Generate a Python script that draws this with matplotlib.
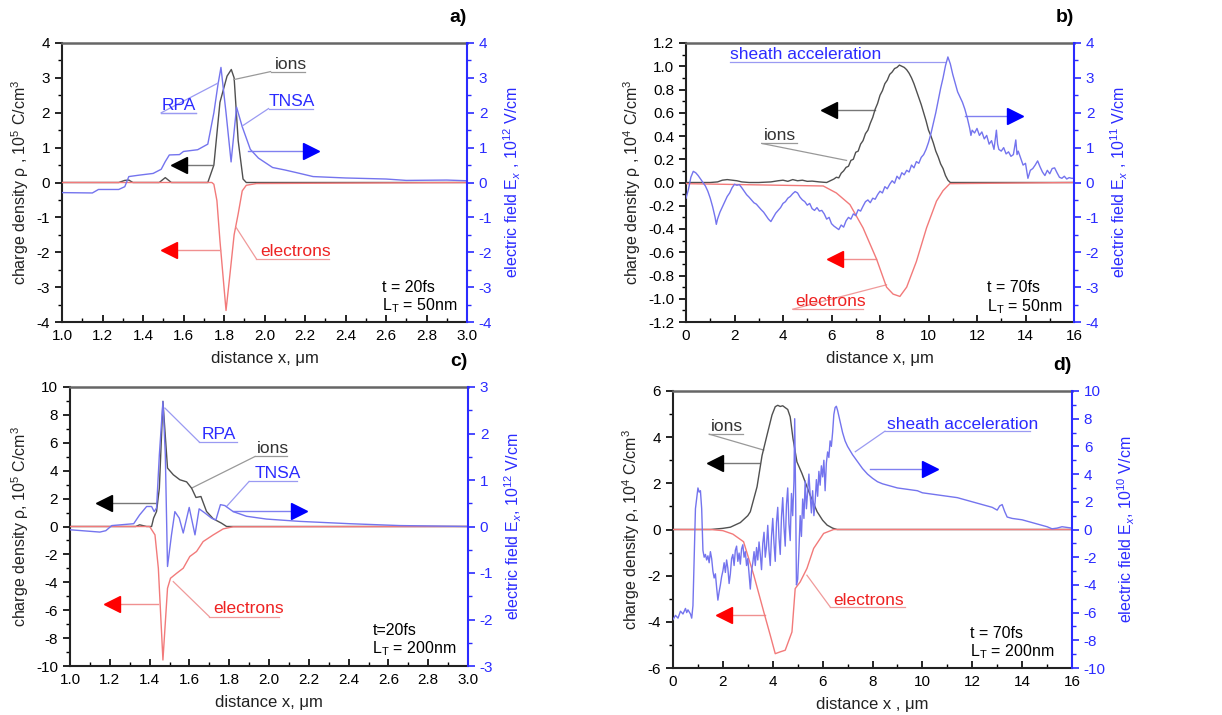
import numpy as np
import matplotlib
matplotlib.use("Agg")
import matplotlib.pyplot as plt
from matplotlib.ticker import MultipleLocator, FormatStrFormatter

plt.rcParams['font.family'] = ['Liberation Sans', 'DejaVu Sans']
plt.rcParams['mathtext.fontset'] = 'custom'
plt.rcParams['mathtext.rm'] = 'Liberation Sans'
plt.rcParams['mathtext.it'] = 'Liberation Sans:italic'
plt.rcParams['mathtext.bf'] = 'Liberation Sans:bold'
plt.rcParams['axes.unicode_minus'] = False

# ---------------- panel a data ----------------
ions_a_x = [1.0, 1.28, 1.31, 1.33, 1.35, 1.48, 1.51, 1.54, 1.72, 1.75, 1.78, 1.815, 1.836, 1.85, 1.87, 1.894, 1.91, 3.0]
ions_a_y = [0, 0, 0.06, 0.07, 0.0, 0, 0.14, 0, 0, 0.5, 2.3, 3.05, 3.24, 3.0, 1.2, 0.1, 0, 0]
elec_a_x = [1.0, 1.74, 1.75, 1.765, 1.78, 1.81, 1.83, 1.85, 1.87, 1.89, 1.91, 1.96, 3.0]
elec_a_y = [0, 0, -0.05, -0.52, -1.67, -3.67, -2.6, -1.5, -0.9, -0.24, -0.08, -0.03, 0]
field_a_x = [1.0, 1.15, 1.18, 1.28, 1.31, 1.33, 1.38, 1.45, 1.49, 1.51, 1.53, 1.58, 1.60, 1.67, 1.72, 1.75, 1.77,
             1.785, 1.81, 1.835, 1.862, 1.89, 1.93, 1.97, 2.04, 2.1, 2.16, 2.24, 2.4, 2.6, 2.7, 2.9, 3.0]
field_a_y = [-0.29, -0.3, -0.2, -0.2, -0.12, 0.17, 0.21, 0.26, 0.38, 0.6, 0.79, 0.8, 0.89, 0.94, 1.1, 2.0, 2.8,
             3.3, 2.0, 0.59, 2.16, 1.6, 0.95, 0.7, 0.43, 0.36, 0.28, 0.17, 0.13, 0.1, 0.06, 0.07, 0.05]

# ---------------- panel b data ----------------
ions_b_x = [0, 0.5, 1.0, 1.3, 1.5, 1.7, 1.9, 2.1, 2.3, 2.6, 3.0, 3.5, 3.8, 4.0, 4.2, 4.4, 4.6, 4.8, 5.0, 5.2, 5.5, 5.8,
            6.0, 6.1, 6.2, 6.3, 6.4, 6.5, 6.6, 6.7, 6.8, 6.9, 7.0, 7.1, 7.2, 7.3, 7.4, 7.5, 7.6, 7.7, 7.8, 7.9,
            8.0, 8.1, 8.2, 8.3, 8.4, 8.5, 8.6, 8.7, 8.8, 8.9, 9.0, 9.1, 9.2, 9.3, 9.4, 9.5, 9.6, 9.7, 9.8, 9.9,
            10.0, 10.1, 10.2, 10.3, 10.4, 10.5, 10.6, 10.7, 10.8, 10.9, 12.0, 16.0]
ions_b_y = [0, 0, 0, 0.005, 0.02, 0.025, 0.02, 0.015, 0.005, 0, 0, 0.005, 0.015, 0.02, 0.01, 0.025, 0.015, 0.02, 0.01, 0.012, 0.005, 0.0,
            0.02, 0.03, 0.045, 0.04, 0.08, 0.1, 0.13, 0.14, 0.19, 0.2, 0.26, 0.27, 0.33, 0.36, 0.42, 0.45, 0.51, 0.56, 0.63, 0.68,
            0.75, 0.79, 0.85, 0.88, 0.93, 0.95, 0.98, 0.99, 1.01, 1.0, 0.99, 0.97, 0.94, 0.9, 0.85, 0.79, 0.73, 0.67, 0.6, 0.53,
            0.45, 0.4, 0.34, 0.27, 0.22, 0.16, 0.12, 0.06, 0.02, 0.0, 0.0, 0.0]
elec_b_x = [0, 5.66, 6.2, 6.76, 7.3, 7.86, 8.27, 8.54, 8.82, 9.1, 9.5, 9.92, 10.33, 10.6, 10.88, 16.0]
elec_b_y = [-0.01, -0.03, -0.09, -0.19, -0.39, -0.66, -0.9, -0.96, -0.98, -0.9, -0.68, -0.39, -0.16, -0.07, -0.01, 0.0]
field_b_x = [0.0, 0.1, 0.2, 0.3, 0.4, 0.5, 0.6, 0.7, 0.8, 0.9, 1.0, 1.1, 1.2, 1.25, 1.3, 1.4, 1.5, 1.6, 1.7, 1.8, 1.9,
             2.0, 2.1, 2.2, 2.3, 2.4, 2.5, 2.6, 2.7, 2.8, 2.9, 3.0, 3.1, 3.2, 3.3, 3.4, 3.5, 3.6, 3.7, 3.8, 3.9,
             4.0, 4.1, 4.2, 4.3, 4.4, 4.5, 4.6, 4.7, 4.8, 4.9, 5.0, 5.1, 5.2, 5.3, 5.4, 5.5, 5.6, 5.7, 5.8, 5.9,
             6.0, 6.1, 6.2, 6.3, 6.4, 6.5, 6.6, 6.7, 6.8, 6.9, 7.0, 7.1, 7.2, 7.3, 7.4, 7.5, 7.6, 7.7, 7.8, 7.9,
             8.0, 8.1, 8.2, 8.3, 8.4, 8.5, 8.6, 8.7, 8.8, 8.9, 9.0, 9.1, 9.2, 9.3, 9.4, 9.5, 9.6, 9.7, 9.8, 9.9,
             10.0, 10.1, 10.2, 10.3, 10.4, 10.5, 10.6, 10.7, 10.8, 10.9, 11.0, 11.1, 11.2, 11.3, 11.4, 11.5, 11.6,
             11.7, 11.75, 11.8, 11.9, 12.0, 12.1, 12.2, 12.3, 12.4, 12.5, 12.6, 12.7, 12.8, 12.85, 12.9, 13.0,
             13.1, 13.2, 13.3, 13.4, 13.5, 13.6, 13.65, 13.7, 13.8, 13.9, 14.0, 14.1, 14.2, 14.3, 14.4, 14.5,
             14.6, 14.7, 14.8, 14.9, 15.0, 15.1, 15.2, 15.3, 15.4, 15.5, 15.6, 15.7, 15.8, 15.9, 16.0]
field_b_y = [-0.45, -0.2, 0.15, 0.32, 0.28, 0.2, 0.1, 0.0, -0.1, -0.25, -0.45, -0.7, -1.0, -1.2, -1.05, -0.85, -0.7, -0.55, -0.4, -0.3, -0.15,
             -0.05, -0.08, -0.06, -0.15, -0.25, -0.35, -0.42, -0.5, -0.58, -0.62, -0.7, -0.78, -0.85, -0.95, -1.05, -1.12, -1.0, -0.88, -0.8, -0.72,
             -0.6, -0.55, -0.45, -0.4, -0.32, -0.26, -0.3, -0.42, -0.5, -0.55, -0.65, -0.6, -0.75, -0.8, -0.72, -0.82, -0.8, -0.9, -1.05, -1.0,
             -1.18, -1.25, -1.3, -1.35, -1.22, -1.28, -1.1, -1.0, -1.05, -0.9, -0.95, -0.78, -0.82, -0.68, -0.55, -0.5, -0.58, -0.45, -0.48, -0.35,
             -0.25, -0.3, -0.12, -0.18, -0.05, 0.05, -0.02, 0.18, 0.1, 0.28, 0.22, 0.35, 0.3, 0.5, 0.42, 0.6, 0.55, 0.72, 0.8, 0.95,
             1.15, 1.4, 1.7, 2.0, 2.35, 2.7, 3.0, 3.35, 3.6, 3.4, 3.1, 2.85, 2.6, 2.45, 2.3, 2.1, 1.85,
             1.55, 1.35, 1.5, 1.42, 1.55, 1.35, 1.45, 1.25, 1.35, 1.1, 1.2, 0.95, 1.5, 1.1, 0.95, 0.9,
             1.0, 0.82, 0.88, 0.75, 0.8, 1.22, 0.8, 0.9, 0.7, 0.5, 0.55, 0.12, 0.35, 0.4, 0.5, 0.62,
             0.45, 0.3, 0.2, 0.35, 0.25, 0.4, 0.42, 0.28, 0.15, 0.12, 0.18, 0.1, 0.14, 0.12, 0.12]

# ---------------- panel c data ----------------
ions_c_x = [1.0, 1.33, 1.35, 1.385, 1.41, 1.42, 1.435, 1.449, 1.467, 1.49, 1.519, 1.552, 1.586, 1.611, 1.633, 1.658, 1.686, 1.72, 1.761, 1.787, 3.0]
ions_c_y = [0, 0, 0.12, 0, 0, 0.6, 1.08, 2.75, 8.97, 4.19, 3.71, 3.35, 3.2, 2.75, 2.08, 2.15, 1.08, 0.55, 0.24, 0, 0]
elec_c_x = [1.0, 1.40, 1.427, 1.444, 1.467, 1.49, 1.505, 1.536, 1.569, 1.602, 1.636, 1.669, 1.72, 1.77, 1.82, 3.0]
elec_c_y = [0, 0, -0.6, -3.0, -9.57, -4.43, -3.71, -3.35, -2.99, -2.15, -1.79, -1.08, -0.6, -0.17, -0.02, 0]
field_c_x = [1.0, 1.15, 1.18, 1.21, 1.32, 1.35, 1.385, 1.41, 1.423, 1.435, 1.449, 1.467, 1.479, 1.49, 1.51, 1.527,
             1.549, 1.569, 1.599, 1.628, 1.649, 1.678, 1.711, 1.733, 1.756, 1.778, 1.82, 1.887, 1.987, 2.155, 2.406, 2.657, 3.0]
field_c_y = [-0.07, -0.12, -0.09, 0.02, 0.06, 0.25, 0.43, 0.43, 0.32, 0.4, 1.54, 2.69, 1.54, -0.86, -0.18, 0.32,
             0.18, -0.14, 0.41, -0.18, 0.38, 0.29, 0.18, 0.14, 0.47, 0.45, 0.32, 0.22, 0.16, 0.11, 0.06, 0.02, 0.0]

# ---------------- panel d data ----------------
ions_d_x = [0, 1.5, 2.0, 2.3, 2.7, 3.0, 3.1, 3.37, 3.57, 3.77, 3.97, 4.1, 4.2, 4.3, 4.4, 4.5, 4.6, 4.7, 4.81, 4.97, 5.17, 5.5, 5.78, 6.0, 6.18, 6.4, 6.58, 16.0]
ions_d_y = [0, 0, 0.05, 0.1, 0.3, 0.6, 0.77, 1.85, 3.2, 4.09, 4.96, 5.32, 5.38, 5.33, 5.36, 5.28, 5.2, 4.88, 3.95, 2.93, 2.43, 1.49, 0.77, 0.4, 0.19, 0.06, 0.0, 0.0]
elec_d_x = [0, 1.5, 2.0, 2.4, 2.83, 3.24, 3.64, 3.9, 4.1, 4.3, 4.5, 4.77, 4.9, 5.1, 5.37, 5.64, 6.04, 6.44, 16.0]
elec_d_y = [0, 0, -0.05, -0.2, -0.53, -1.98, -3.57, -4.58, -5.38, -5.3, -5.23, -4.44, -2.56, -2.27, -1.69, -0.82, -0.17, 0.0, 0.0]
field_d_x = [0.0, 0.1, 0.2, 0.3, 0.4, 0.5, 0.55, 0.6, 0.7, 0.75, 0.8, 0.85, 0.9, 1.0, 1.05, 1.1, 1.15, 1.2, 1.25, 1.3,
             1.35, 1.4, 1.45, 1.5, 1.55, 1.6, 1.65, 1.7, 1.75, 1.8, 1.85, 1.9, 1.95, 2.0, 2.05, 2.1, 2.15, 2.2,
             2.25, 2.3, 2.35, 2.4, 2.45, 2.5, 2.55, 2.6, 2.65, 2.7, 2.75, 2.8, 2.85, 2.9, 2.95, 3.0, 3.05, 3.1,
             3.15, 3.2, 3.25, 3.3, 3.35, 3.4, 3.45, 3.5, 3.55, 3.6, 3.65, 3.7, 3.75, 3.8, 3.85, 3.9, 3.95, 4.0,
             4.05, 4.1, 4.15, 4.2, 4.25, 4.3, 4.35, 4.4, 4.45, 4.5, 4.55, 4.6, 4.65, 4.7, 4.75, 4.8, 4.85, 4.88,
             4.92, 4.95, 5.0, 5.05, 5.1, 5.15, 5.2, 5.25, 5.3, 5.35, 5.4, 5.45, 5.5, 5.55, 5.6, 5.65, 5.7, 5.75,
             5.8, 5.85, 5.9, 5.95, 6.0, 6.05, 6.1, 6.15, 6.2, 6.25, 6.3, 6.35, 6.4, 6.45, 6.5, 6.55, 6.6, 6.7,
             6.8, 6.9, 7.0, 7.2, 7.4, 7.6, 7.8, 8.0, 8.2, 8.4, 8.6, 8.8, 9.0, 9.2, 9.4, 9.6, 9.8, 10.0, 10.2,
             10.4, 10.6, 10.8, 11.0, 11.2, 11.4, 11.6, 11.8, 12.0, 12.2, 12.4, 12.6, 12.8, 13.0, 13.1, 13.2, 13.3,
             13.4, 13.6, 13.8, 14.0, 14.2, 14.4, 14.6, 14.8, 15.0, 15.2, 15.4, 15.6, 15.8, 16.0]
field_d_y = [-6.5, -6.2, -6.4, -5.9, -6.1, -5.7, -6.0, -5.8, -6.1, -6.4, -5.5, -2.0, 1.5, 3.0, 2.7, 2.8, 1.5, -1.5, -2.0, -1.8,
             -2.2, -1.9, -2.4, -1.6, -2.1, -3.0, -3.5, -3.2, -4.2, -5.1, -4.5, -4.0, -3.4, -3.0, -2.4, -3.1, -2.2, -2.8,
             -3.9, -3.2, -2.1, -1.8, -2.6, -1.5, -1.2, -2.3, -1.7, -2.5, -1.4, -1.1, -2.0, -1.6, -2.6, -2.1, -3.2, -4.3,
             -3.0, -2.4, -1.6, -2.6, -1.3, -2.2, -0.9, -1.8, -2.9, -1.0, -0.2, -2.0, -1.2, 0.3, -1.5, -2.6, -0.5, 0.8,
             -1.0, -2.3, 0.5, 1.6, -0.6, -1.8, 0.9, 2.3, 0.2, -1.2, 1.8, 3.0, 0.4, -0.8, 2.6, 1.0, 3.5, 8.0,
             2.0, -4.0, -3.6, -1.5, 1.0, -0.5, 2.2, 0.8, 3.5, 1.5, 2.8, 4.0, 2.5, 1.2, 2.8, 1.0, 2.0, 3.6,
             2.4, 4.2, 3.2, 4.6, 3.8, 5.0, 2.8, 4.8, 5.6, 5.2, 6.4, 6.0, 7.0, 8.3, 8.8, 8.9, 8.6, 7.8,
             7.0, 6.4, 6.0, 5.4, 4.9, 4.4, 4.0, 3.7, 3.45, 3.3, 3.2, 3.1, 3.0, 2.95, 2.9, 2.85, 2.8, 2.65, 2.6,
             2.55, 2.5, 2.45, 2.4, 2.35, 2.3, 2.2, 2.1, 2.0, 1.9, 1.8, 1.7, 1.6, 1.4, 1.7, 1.8, 1.3,
             0.9, 0.8, 0.75, 0.7, 0.6, 0.5, 0.4, 0.3, 0.2, 0.05, 0.1, 0.2, 0.15, 0.1]

C_ION = '#505050'
C_ELE = '#f27a7a'
C_FLD = '#7474ee'
C_BLUE = '#2b2bff'

fig = plt.figure(figsize=(12.22, 7.15), dpi=100)

W, H = 1222.0, 715.0
def make_axes(l, r, t, b):
    return fig.add_axes([l / W, 1 - b / H, (r - l) / W, (b - t) / H])


def setup(ax, ax2, xlim, ylim, y2lim, xmaj, xmin, ymaj, ymin, y2maj, y2min, xfmt, yfmt, y2fmt,
          xlabel, ylabel, y2label, tag):
    ax.set_xlim(*xlim)
    ax.set_ylim(*ylim)
    ax2.set_ylim(*y2lim)
    ax.xaxis.set_major_locator(MultipleLocator(xmaj))
    ax.xaxis.set_minor_locator(MultipleLocator(xmin))
    ax.yaxis.set_major_locator(MultipleLocator(ymaj))
    ax.yaxis.set_minor_locator(MultipleLocator(ymin))
    ax2.yaxis.set_major_locator(MultipleLocator(y2maj))
    ax2.yaxis.set_minor_locator(MultipleLocator(y2min))
    ax.xaxis.set_major_formatter(FormatStrFormatter(xfmt))
    ax.yaxis.set_major_formatter(FormatStrFormatter(yfmt))
    ax2.yaxis.set_major_formatter(FormatStrFormatter(y2fmt))
    ax.tick_params(axis='x', which='both', direction='in', labelsize=11, pad=5)
    ax.tick_params(axis='x', which='major', length=5, width=1.2)
    ax.tick_params(axis='x', which='minor', length=3, width=1.0)
    ax.tick_params(axis='y', which='major', direction='out', length=5, width=1.2, labelsize=11)
    ax.tick_params(axis='y', which='minor', direction='out', length=3, width=1.0)
    ax2.tick_params(axis='y', which='major', direction='out', length=5, width=1.2, labelsize=11,
                    colors=C_BLUE)
    ax2.tick_params(axis='y', which='minor', direction='out', length=3, width=1.0, colors=C_BLUE)
    for s in ['left', 'bottom']:
        ax.spines[s].set_linewidth(1.5)
        ax.spines[s].set_color('#222222')
    ax.spines['top'].set_color('#666666')
    ax.spines['top'].set_linewidth(1.8)
    ax2.spines['top'].set_visible(False)
    ax2.spines['right'].set_color(C_BLUE)
    ax2.spines['right'].set_linewidth(1.5)
    ax2.spines['left'].set_visible(False)
    ax2.spines['bottom'].set_visible(False)
    ax.spines['right'].set_visible(False)
    ax.set_xlabel(xlabel, fontsize=12, color='#222222', labelpad=6)
    ax.set_ylabel(ylabel, fontsize=11.5, color='#222222', labelpad=4)
    ax2.set_ylabel(y2label, fontsize=11.5, color=C_BLUE, labelpad=7)
    ax.text(1.0, 1.06, tag, transform=ax.transAxes, ha='right', va='bottom',
            fontsize=14, fontweight='bold')


def label(ax, text, xy, color, under, leader_to, lc):
    ax.text(xy[0], xy[1], text, color=color, fontsize=12.5, ha='left', va='center')
    ax.plot([under[0], under[1]], [under[2], under[2]], color=lc, lw=0.9)
    ax.plot([under[0], leader_to[0]], [under[2], leader_to[1]], color=lc, lw=0.9)


def arrow(ax, x0, x1, y, shaft, head):
    ax.plot([x0, x1], [y, y], color=shaft, lw=1.0)
    m = '<' if x1 < x0 else '>'
    ax.plot([x1], [y], marker=m, ms=12, color=head, mec=head)


def info(ax, x, y1, y2, t, L):
    ax.text(x, y1, t, fontsize=11.5, ha='left', va='center')
    ax.text(x, y2, r'L$_{\rm T}$ = ' + L, fontsize=11.5, ha='left', va='center')


# ================= panel a =================
ax = make_axes(62, 467, 43, 322)
ax2 = ax.twinx()
ax.plot(ions_a_x, ions_a_y, color=C_ION, lw=1.0, zorder=3)
ax.plot(elec_a_x, elec_a_y, color=C_ELE, lw=1.0, zorder=3)
ax2.plot(field_a_x, field_a_y, color=C_FLD, lw=1.0)
setup(ax, ax2, (1.0, 3.0), (-4, 4), (-4, 4), 0.2, 0.1, 1, 0.5, 1, 0.5, '%.1f', '%d', '%d',
      'distance x, μm', r'charge density ρ , 10$^{5}$ C/cm$^{3}$',
      r'electric field E$_{x}$ , 10$^{12}$ V/cm', 'a)')
label(ax2, 'ions', (2.05, 3.38), '#333333', (2.03, 2.2, 3.18), (1.848, 2.95), '#999999')
label(ax2, 'RPA', (1.49, 2.2), C_BLUE, (1.49, 1.66, 2.0), (1.77, 2.85), '#9a9af2')
ax2.plot([1.49, 1.66], [2.0, 2.0], color='#9a9af2', lw=0.9)
label(ax2, 'TNSA', (2.02, 2.33), C_BLUE, (2.02, 2.24, 2.12), (1.89, 1.62), '#9a9af2')
label(ax2, 'electrons', (1.98, -1.97), '#ee2222', (1.96, 2.32, -2.19), (1.86, -1.29), '#f09a9a')
arrow(ax2, 1.74, 1.58, 0.5, '#777777', 'black')
arrow(ax2, 1.92, 2.23, 0.89, '#8080f0', '#0000ff')
arrow(ax2, 1.78, 1.53, -1.93, '#f09090', '#ff0000')
info(ax2, 2.58, -3.0, -3.52, 't = 20fs', '50nm')

# ================= panel b =================
ax = make_axes(686, 1074, 43, 322)
ax2 = ax.twinx()
ax.plot(ions_b_x, ions_b_y, color=C_ION, lw=1.0, zorder=3)
ax.plot(elec_b_x, elec_b_y, color=C_ELE, lw=1.0, zorder=3)
ax2.plot(field_b_x, field_b_y, color=C_FLD, lw=1.0)
setup(ax, ax2, (0, 16), (-1.2, 1.2), (-4, 4), 2, 1, 0.2, 0.1, 1, 0.5, '%d', '%.1f', '%d',
      'distance x, μm', r'charge density ρ , 10$^{4}$ C/cm$^{3}$',
      r'electric field E$_{x}$ , 10$^{11}$ V/cm', 'b)')
ax.text(1.8, 1.10, 'sheath acceleration', color=C_BLUE, fontsize=12.5, ha='left', va='center')
ax.plot([1.8, 10.7], [1.035, 1.035], color='#9a9af2', lw=0.9)
label(ax, 'ions', (3.2, 0.40), '#333333', (3.12, 4.56, 0.336), (6.62, 0.19), '#999999')
label(ax, 'electrons', (4.5, -1.02), '#ee2222', (4.4, 7.3, -1.09), (8.27, -0.88), '#f09a9a')
arrow(ax, 7.8, 5.9, 0.62, '#777777', 'black')
arrow(ax, 11.5, 13.55, 0.575, '#8080f0', '#0000ff')
arrow(ax, 7.85, 6.15, -0.66, '#f09090', '#ff0000')
info(ax, 12.4, -0.905, -1.065, 't = 70fs', '50nm')

# ================= panel c =================
ax = make_axes(70, 468, 387, 666)
ax2 = ax.twinx()
ax.plot(ions_c_x, ions_c_y, color=C_ION, lw=1.0, zorder=3)
ax.plot(elec_c_x, elec_c_y, color=C_ELE, lw=1.0, zorder=3)
ax2.plot(field_c_x, field_c_y, color=C_FLD, lw=1.0)
setup(ax, ax2, (1.0, 3.0), (-10, 10), (-3, 3), 0.2, 0.1, 2, 1, 1, 0.5, '%.1f', '%d', '%d',
      'distance x, μm', r'charge density ρ, 10$^{5}$ C/cm$^{3}$',
      r'electric field E$_{x}$, 10$^{12}$ V/cm', 'c)')
label(ax, 'RPA', (1.66, 6.6), C_BLUE, (1.65, 1.84, 6.05), (1.477, 8.49), '#9a9af2')
label(ax, 'ions', (1.94, 5.6), '#333333', (1.93, 2.09, 5.02), (1.611, 2.75), '#999999')
label(ax, 'TNSA', (1.93, 3.8), C_BLUE, (1.9, 2.14, 3.23), (1.787, 1.44), '#9a9af2')
label(ax, 'electrons', (1.72, -5.9), '#ee2222', (1.7, 2.05, -6.46), (1.519, -3.95), '#f09a9a')
arrow(ax, 1.43, 1.17, 1.67, '#777777', 'black')
arrow(ax, 1.82, 2.15, 1.08, '#8080f0', '#0000ff')
arrow(ax, 1.44, 1.21, -5.57, '#f09090', '#ff0000')
info(ax, 2.52, -7.42, -8.75, 't=20fs', '200nm')

# ================= panel d =================
ax = make_axes(673, 1072, 391, 668)
ax2 = ax.twinx()
ax.plot(ions_d_x, ions_d_y, color=C_ION, lw=1.0, zorder=3)
ax.plot(elec_d_x, elec_d_y, color=C_ELE, lw=1.0, zorder=3)
ax2.plot(field_d_x, field_d_y, color=C_FLD, lw=1.0)
setup(ax, ax2, (0, 16), (-6, 6), (-10, 10), 2, 1, 2, 1, 2, 1, '%d', '%d', '%d',
      'distance x , μm', r'charge density ρ, 10$^{4}$ C/cm$^{3}$',
      r'electric field E$_{x}$, 10$^{10}$ V/cm', 'd)')
label(ax, 'ions', (1.5, 4.45), '#333333', (1.45, 2.8, 4.13), (3.64, 3.44), '#999999')
ax.text(8.58, 4.55, 'sheath acceleration', color=C_BLUE, fontsize=12.5, ha='left', va='center')
ax.plot([8.5, 14.3], [4.26, 4.26], color='#9a9af2', lw=0.9)
ax.plot([8.5, 7.31], [4.26, 3.37], color='#9a9af2', lw=0.9)
label(ax, 'electrons', (6.44, -3.06), '#ee2222', (6.3, 9.3, -3.35), (5.37, -1.98), '#f09a9a')
arrow(ax, 3.44, 1.7, 2.9, '#777777', 'black')
arrow(ax, 7.9, 10.3, 2.61, '#8080f0', '#0000ff')
arrow(ax, 3.7, 2.03, -3.71, '#f09090', '#ff0000')
info(ax, 11.9, -4.51, -5.3, 't = 70fs', '200nm')

fig.savefig('out.png', dpi=100)
